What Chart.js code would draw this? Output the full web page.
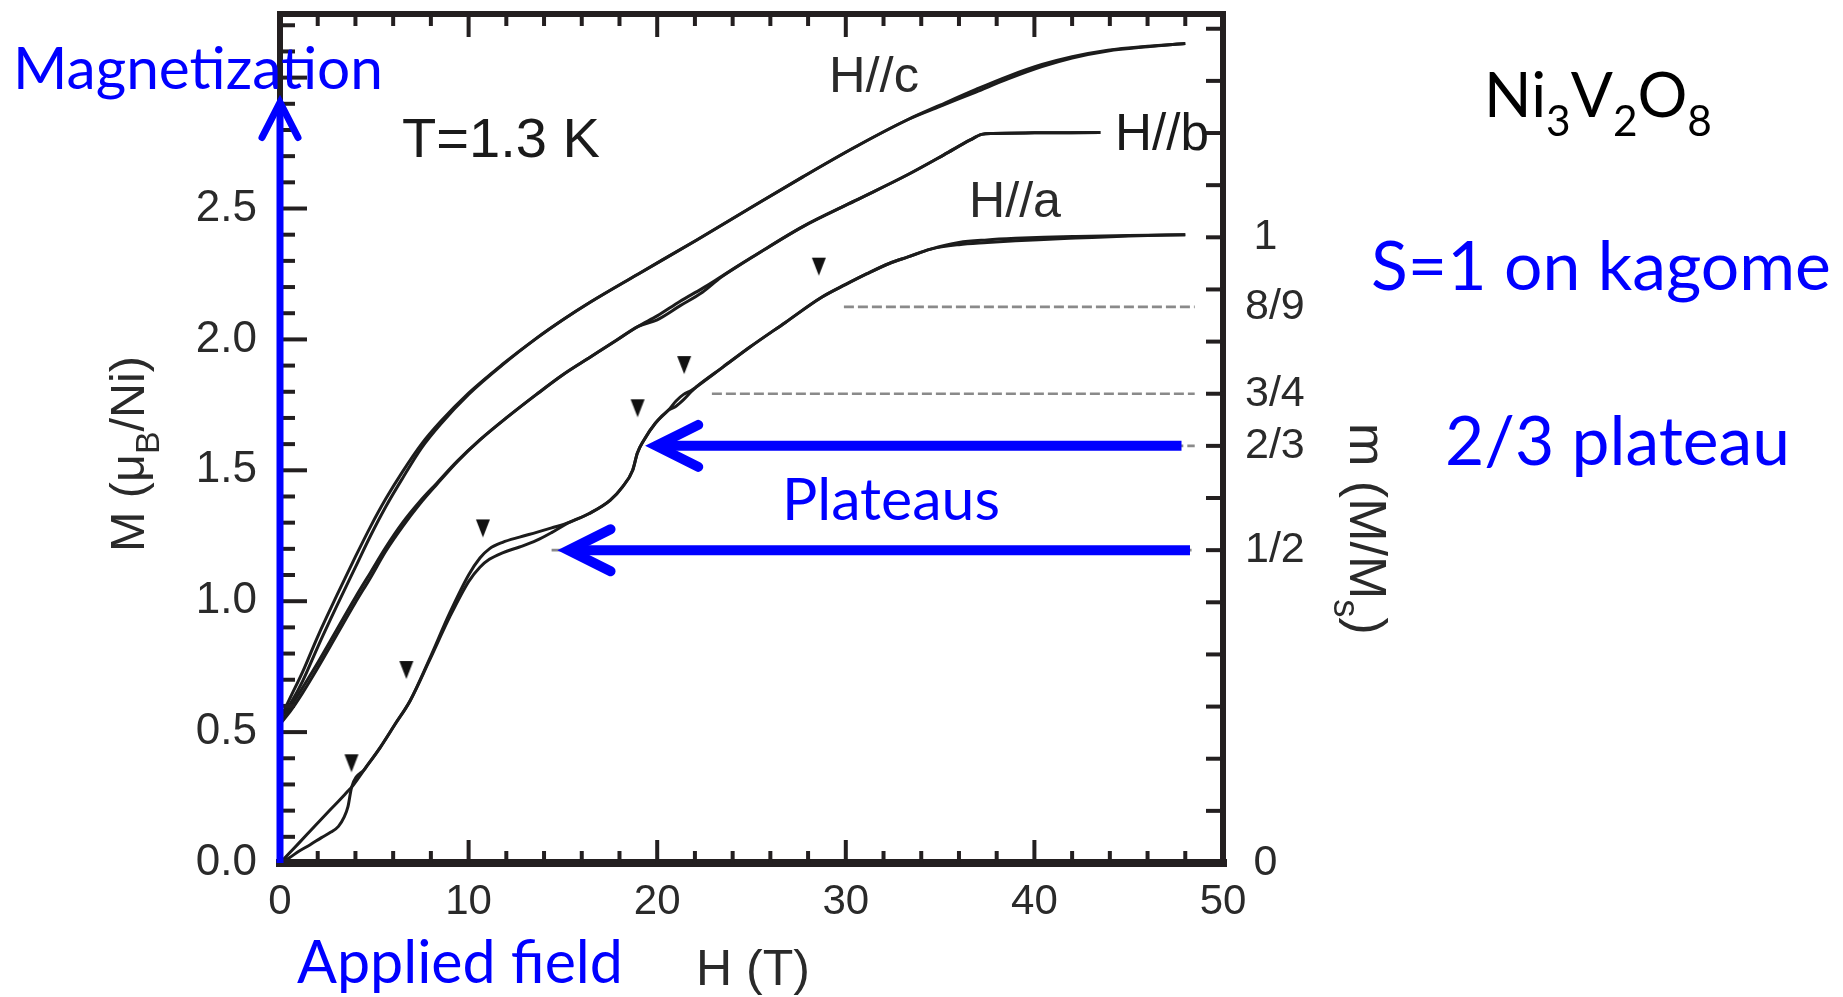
<!DOCTYPE html>
<html lang="en">
  <head>
    <meta charset="UTF-8" />
    <title>Ni3V2O8 magnetization</title>
    <script src="https://cdn.jsdelivr.net/npm/chart.js@4.4.1/dist/chart.umd.min.js"></script>
    <style>
      html, body { margin: 0; padding: 0; background: #fff; }
    </style>
  </head>
  <body>
    <canvas id="myChart" width="1843" height="997"></canvas>

    <!--Curve data-->
    <script>
      // saturation moment, sets the m = M/Ms axis on the right
      var Ms = 2.39;
      var yMax = 3.243;

      // H//c : field (T), and M (muB/Ni) for the two sweeps
      var hC = [0, 0.6, 1.2, 2.0, 3.0, 4.0, 4.8, 5.6, 6.5, 7.5, 8.5, 10.0, 11.8, 13.6, 15.0, 16.4, 19.0, 22.1, 25.0, 27.7, 30.5, 33.3, 35.0, 36.9, 38.6, 40.4, 42.0, 43.9, 46.0, 48.0];
      var mCUp = [0.55, 0.64, 0.73, 0.865, 1.02, 1.17, 1.285, 1.39, 1.495, 1.60, 1.685, 1.795, 1.905, 2.005, 2.075, 2.14, 2.25, 2.38, 2.505, 2.62, 2.735, 2.84, 2.895, 2.955, 3.005, 3.05, 3.08, 3.105, 3.12, 3.13];
      var mCDown = [0.55, 0.615, 0.695, 0.825, 0.98, 1.13, 1.25, 1.36, 1.47, 1.585, 1.675, 1.79, 1.903, 2.004, 2.075, 2.14, 2.25, 2.38, 2.505, 2.62, 2.735, 2.84, 2.89, 2.945, 2.995, 3.042, 3.075, 3.102, 3.118, 3.13];

      // H//b
      var hB = [0, 0.6, 1.2, 2.0, 3.0, 4.0, 4.8, 5.6, 6.5, 7.4, 8.3, 9.4, 10.6, 12.0, 13.6, 15.0, 16.4, 17.8, 19.0, 20.0, 21.2, 22.4, 23.4, 25.5, 27.7, 30.5, 33.3, 35.2, 36.6, 37.2, 37.8, 40.0, 43.5];
      var mBUp = [0.53, 0.60, 0.67, 0.765, 0.89, 1.015, 1.11, 1.205, 1.30, 1.38, 1.45, 1.535, 1.616, 1.70, 1.79, 1.865, 1.93, 1.995, 2.05, 2.09, 2.145, 2.195, 2.24, 2.335, 2.43, 2.53, 2.63, 2.705, 2.762, 2.783, 2.787, 2.789, 2.79];
      var mBDown = [0.53, 0.585, 0.65, 0.745, 0.87, 0.995, 1.09, 1.19, 1.285, 1.37, 1.445, 1.533, 1.616, 1.70, 1.79, 1.865, 1.93, 1.995, 2.05, 2.075, 2.128, 2.18, 2.238, 2.335, 2.43, 2.53, 2.63, 2.705, 2.762, 2.783, 2.787, 2.789, 2.79];

      // H//a
      var hA = [0, 0.5, 1.0, 1.6, 2.2, 2.7, 3.1, 3.4, 3.6, 3.8, 4.5, 5.3, 6.1, 6.9, 7.9, 9.0, 10.0, 10.6, 11.1, 11.8, 12.7, 13.6, 14.4, 15.3, 16.4, 17.5, 18.15, 18.7, 18.95, 19.3, 19.9, 20.6, 21.0, 21.4, 21.8, 22.1, 23.5, 24.9, 26.8, 28.7, 30.0, 31.1, 32.3, 33.3, 34.5, 36.0, 37.5, 39.0, 40.5, 42.2, 45.0, 48.0];
      var mAUp = [0, 0.038, 0.076, 0.122, 0.168, 0.206, 0.236, 0.259, 0.275, 0.29, 0.36, 0.44, 0.53, 0.62, 0.775, 0.955, 1.10, 1.165, 1.20, 1.225, 1.245, 1.263, 1.28, 1.30, 1.335, 1.385, 1.436, 1.50, 1.566, 1.616, 1.68, 1.73, 1.765, 1.79, 1.805, 1.82, 1.895, 1.97, 2.065, 2.16, 2.21, 2.25, 2.29, 2.315, 2.345, 2.37, 2.38, 2.386, 2.39, 2.393, 2.397, 2.40];
      var mADown = [0, 0.02, 0.045, 0.07, 0.097, 0.118, 0.14, 0.175, 0.214, 0.29, 0.36, 0.44, 0.53, 0.62, 0.77, 0.94, 1.075, 1.13, 1.16, 1.185, 1.207, 1.232, 1.262, 1.30, 1.335, 1.385, 1.436, 1.50, 1.566, 1.616, 1.68, 1.73, 1.745, 1.77, 1.80, 1.82, 1.895, 1.97, 2.065, 2.16, 2.21, 2.25, 2.29, 2.315, 2.345, 2.362, 2.37, 2.377, 2.382, 2.387, 2.395, 2.40];

      // transition markers (black triangles)
      var hTri = [3.79, 6.70, 10.76, 18.96, 21.43, 28.57];
      var mTri = [0.381, 0.737, 1.278, 1.737, 1.902, 2.278];

      // dashed plateau guides: fraction of Ms and the field where each starts
      var plateauFrac = [1 / 2, 2 / 3, 3 / 4, 8 / 9];
      var plateauStart = [14.4, 19.9, 22.9, 29.9];
      var plateauEnd = 48.5;

      // tick labels
      var xTicks = [0, 10, 20, 30, 40, 50];
      var yTicks = [0, 0.5, 1.0, 1.5, 2.0, 2.5];
      var mTickVals = [0, 1 / 2, 2 / 3, 3 / 4, 8 / 9, 1];
      var mTickText = ["\u20090", "1/2", "2/3", "3/4", "8/9", "\u20091"];

      // blue arrows (field, M)
      var arrowUpTop = 2.905;
      var arrow23 = [47.8, 19.95];
      var arrow12 = [48.25, 15.3];
    </script>

    <script>
      var ink = "#1c1c1c";
      var sans = "'Liberation Sans', Arial, sans-serif";
      var cal = "Lato, 'Open Sans', sans-serif";
      var blue = "#0000ff";

      function pts(h, m) {
        return h.map(function (v, i) {
          return { x: v, y: m[i] };
        });
      }

      function curve(h, m) {
        return {
          data: pts(h, m),
          showLine: true,
          pointRadius: 0,
          borderColor: ink,
          borderWidth: 3,
          cubicInterpolationMode: "monotone",
        };
      }

      // downward triangle marker
      var tri = document.createElement("canvas");
      tri.width = 16;
      tri.height = 20;
      var tc = tri.getContext("2d");
      tc.fillStyle = "#111";
      tc.beginPath();
      tc.moveTo(1, 1);
      tc.lineTo(15, 1);
      tc.lineTo(8, 19);
      tc.closePath();
      tc.fill();

      var datasets = [
        curve(hC, mCUp), curve(hC, mCDown),
        curve(hB, mBUp), curve(hB, mBDown),
        curve(hA, mAUp), curve(hA, mADown),
      ];
      plateauFrac.forEach(function (f, i) {
        datasets.push({
          data: [{ x: plateauStart[i], y: f * Ms }, { x: plateauEnd, y: f * Ms }],
          showLine: true,
          pointRadius: 0,
          borderColor: "#8a8a8a",
          borderWidth: 2.6,
          borderDash: [10, 4],
        });
      });
      datasets.push({
        data: pts(hTri, mTri),
        showLine: false,
        pointStyle: tri,
        pointRadius: 8,
      });

      function partsWidth(ctx, parts, size, fam, sub) {
        var w = 0;
        parts.forEach(function (p) {
          ctx.font = (p[1] ? size * sub : size) + "px " + fam;
          w += ctx.measureText(p[0]).width;
        });
        return w;
      }

      // draws text (with optional subscripts) fitted to a width
      function label(ctx, parts, x, y, width, fam, color, rot, sub, drop) {
        sub = sub || 0.65;
        drop = drop || 0.28;
        var size = (100 * width) / partsWidth(ctx, parts, 100, fam, sub);
        ctx.save();
        ctx.translate(x, y);
        ctx.rotate(rot || 0);
        ctx.fillStyle = color;
        ctx.textAlign = "left";
        ctx.textBaseline = "alphabetic";
        var cx = 0;
        parts.forEach(function (p) {
          var s = p[1] ? size * sub : size;
          ctx.font = s + "px " + fam;
          ctx.fillText(p[0], cx, p[1] ? size * drop : 0);
          cx += ctx.measureText(p[0]).width;
        });
        ctx.restore();
      }

      function line(ctx, x1, y1, x2, y2) {
        ctx.beginPath();
        ctx.moveTo(x1, y1);
        ctx.lineTo(x2, y2);
        ctx.stroke();
      }

      // keep the plot box where the figure has it
      function noPad(s) {
        s.paddingTop = 0;
        s.paddingBottom = 0;
        s.paddingLeft = 0;
        s.paddingRight = 0;
      }

      var overlay = {
        id: "overlay",
        afterDraw: function (chart) {
          var ctx = chart.ctx;
          var a = chart.chartArea;
          var sx = chart.scales.x, sy = chart.scales.y, sm = chart.scales.m;
          ctx.save();

          // frame
          ctx.strokeStyle = "#231f20";
          ctx.lineCap = "square";
          ctx.lineWidth = 6;
          line(ctx, a.left, a.top, a.right, a.top);
          line(ctx, a.right, a.top, a.right, a.bottom);
          line(ctx, a.left, a.top, a.left, a.bottom);
          ctx.lineWidth = 8;
          line(ctx, a.left, a.bottom, a.right, a.bottom);

          // inward ticks
          ctx.lineCap = "butt";
          ctx.lineWidth = 4;
          for (var h = 0; h <= 50; h += 2) {
            var px = sx.getPixelForValue(h);
            var len = h % 10 === 0 ? 23 : 12;
            line(ctx, px, a.bottom, px, a.bottom - len);
            line(ctx, px, a.top, px, a.top + len);
          }
          for (var k = 0; k <= 32; k++) {
            var py = sy.getPixelForValue(k / 10);
            line(ctx, a.left, py, a.left + (k % 5 === 0 ? 27 : 15), py);
          }
          for (var j = 0; j <= 16; j++) {
            var pm = sm.getPixelForValue(j / 12);
            line(ctx, a.right, pm, a.right - 17, pm);
          }

          // blue arrows
          ctx.strokeStyle = blue;
          ctx.lineJoin = "miter";
          ctx.lineWidth = 7;
          var ax = sx.getPixelForValue(0);
          var ay = sy.getPixelForValue(arrowUpTop);
          line(ctx, ax, a.bottom, ax, ay + 4);
          ctx.lineCap = "round";
          ctx.beginPath();
          ctx.moveTo(ax - 18, ay + 35);
          ctx.lineTo(ax, ay);
          ctx.lineTo(ax + 18, ay + 35);
          ctx.stroke();

          [[arrow23, 2 / 3], [arrow12, 1 / 2]].forEach(function (ar) {
            var yy = sy.getPixelForValue(ar[1] * Ms);
            var x1 = sx.getPixelForValue(ar[0][0]);
            var x2 = sx.getPixelForValue(ar[0][1]);
            ctx.lineWidth = 10;
            ctx.lineCap = "butt";
            line(ctx, x1, yy, x2 + 6, yy);
            ctx.lineCap = "round";
            ctx.beginPath();
            ctx.moveTo(x2 + 42, yy - 21);
            ctx.lineTo(x2, yy);
            ctx.lineTo(x2 + 42, yy + 21);
            ctx.stroke();
          });

          // axis titles
          label(ctx, [["M (\u03bc", 0], ["B", 1], ["/Ni)", 0]], 144, 552, 196, sans, "#2a2a2a", -Math.PI / 2, 0.7, 0.3);
          label(ctx, [["m (M/M", 0], ["s", 1], [")", 0]], 1350, 423, 212, sans, "#2a2a2a", Math.PI / 2, 0.7, 0.3);
          label(ctx, [["H (T)", 0]], 696, 985, 114, sans, "#2a2a2a");

          // in-plot labels
          label(ctx, [["T=1.3 K", 0]], 402, 157, 198, sans, "#1a1a1a");
          label(ctx, [["H//c", 0]], 829, 92, 90, sans, "#2a2a2a");
          label(ctx, [["H//b", 0]], 1115, 150, 94, sans, "#1a1a1a");
          label(ctx, [["H//a", 0]], 969, 217, 92, sans, "#2a2a2a");

          // blue notes
          label(ctx, [["Magnetization", 0]], 13, 89, 370, cal, blue);
          label(ctx, [["Applied field", 0]], 297, 983, 326, cal, blue);
          label(ctx, [["Plateaus", 0]], 782, 520, 218, cal, blue);
          label(ctx, [["S=1 on kagome", 0]], 1371, 290, 460, cal, blue);
          label(ctx, [["2/3 plateau", 0]], 1445, 465, 345, cal, blue);
          label(ctx, [["Ni", 0], ["3", 1], ["V", 0], ["2", 1], ["O", 0], ["8", 1]], 1484, 117, 228, cal, "#000", 0, 0.68, 0.3);

          ctx.restore();
        },
      };

      var ctx = document.getElementById("myChart").getContext("2d");
      var myChart = new Chart(ctx, {
        type: "scatter",
        data: { datasets: datasets },
        options: {
          responsive: false,
          animation: false,
          devicePixelRatio: 1,
          layout: { padding: { top: 14, left: 0, right: 0, bottom: 0 } },
          plugins: { legend: { display: false }, tooltip: { enabled: false } },
          scales: {
            x: {
              type: "linear",
              position: "bottom",
              min: 0,
              max: 50,
              grid: { display: false, drawTicks: false },
              border: { display: false },
              afterBuildTicks: function (s) {
                s.ticks = xTicks.map(function (v) { return { value: v }; });
              },
              ticks: { font: { family: sans, size: 42 }, color: "#2a2a2a", padding: 14, maxRotation: 0, autoSkip: false },
              afterFit: function (s) { s.height = 134; noPad(s); },
            },
            y: {
              type: "linear",
              position: "left",
              min: 0,
              max: yMax,
              grid: { display: false, drawTicks: false },
              border: { display: false },
              afterBuildTicks: function (s) {
                s.ticks = yTicks.map(function (v) { return { value: v }; });
              },
              ticks: {
                font: { family: sans, size: 44 },
                color: "#2a2a2a",
                padding: 23,
                autoSkip: false,
                callback: function (v) { return v.toFixed(1); },
              },
              afterFit: function (s) { s.width = 280; noPad(s); },
            },
            m: {
              type: "linear",
              position: "right",
              min: 0,
              max: yMax / Ms,
              grid: { display: false, drawTicks: false },
              border: { display: false },
              afterBuildTicks: function (s) {
                s.ticks = mTickVals.map(function (v) { return { value: v }; });
              },
              ticks: {
                font: { family: sans, size: 43 },
                color: "#2a2a2a",
                padding: 22,
                autoSkip: false,
                callback: function (v, i) { return mTickText[i]; },
              },
              afterFit: function (s) { s.width = 620; noPad(s); },
            },
          },
        },
        plugins: [overlay],
      });
    </script>
  </body>
</html>
